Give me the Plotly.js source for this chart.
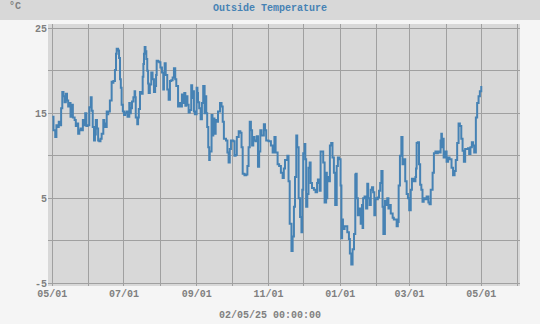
<!DOCTYPE html>
<html>
<head>
<meta charset="utf-8">
<script src="https://cdn.plot.ly/plotly-3.0.1.min.js"></script>
<style>html,body{margin:0;padding:0;background:#f5f5f5;}#chart{width:540px;height:324px;}</style>
</head>
<body>
<div id="chart"></div>
<script>
// Days since 2024-05-01 00:00 for each reading
const dayOffsets = [
  0,1,2.5,3.5,4.5,5.5,6.5,7.5,8.5,9.5,
  10.5,11.5,12.5,13.5,14.5,15.5,16.5,17.5,19,20,
  21,22,23,24,25,26,27,28,29,30,
  31.5,32.7,33.5,34.4,35.5,36.3,37,38,39,40,
  41,42,43.4,44.2,45,46.3,47,47.6,49,50.5,
  51.3,52,53.3,54.2,54.8,56,56.8,57.6,58.3,59,
  60,61,62,63,64,65.5,66,66.8,67.8,69,
  70,70.5,71,72.3,73,73.6,74.6,75.7,76.9,77.5,
  78,78.6,79.3,80,80.8,81.5,82,83,84.2,85.3,
  86.5,87.5,88.3,88.8,90,91,92,93.3,94.4,95,
  95.6,96.5,97.8,99,100.1,101.2,102.4,103.5,104.6,105.5,
  107,108,109,110.3,111.4,112.3,113.2,114,115,116,
  117,118.2,119,119.6,120.5,121.3,122.8,123.5,124,125,
  126.2,127.3,128.4,129.6,130.3,131,131.8,132.7,133.5,134,
  135.5,136.3,137,138,139,140,141,142.7,144,145,
  146,147.8,149,150,151,152,154,155,156,157,
  158.6,160,161,162,163.5,165,166,167,168,169,
  170,171,172,173,174,175,176,177,178,179,
  180,181,182,184,186,187.5,189,190,191.7,193,
  194.5,196,197,198,200,201,202,203.5,204.5,205.6,
  206.5,207.6,208.4,209.6,210.8,212,212.7,213.5,214.7,215.3,
  216,217,218,219,219.8,221,222.6,224,225.3,226,
  227.5,228.3,229.7,230.5,231.7,233,233.6,234,235,236.2,
  237.3,238.4,239.6,240.7,242,243,244,245.3,246,246.6,
  247.3,248.7,250,251,252.4,253.2,254.4,255.5,256.7,257.8,
  258.4,259,260,261,262.4,263.5,264,264.5,265.7,267,
  268,268.8,270,271,272,273,274,274.8,276,277,
  278,279,280,281,281.7,283,284,285,286,287,
  288,289.6,290.6,292,293,294,294.7,295.8,297,298,
  299.2,300.3,301.5,302.6,303.7,305,306,307.5,309,309.5,
  310,311,312,313,314,315,316,317,318.5,320,
  321,322,323.6,324.7,326,327,328,329,330.4,331,
  331.5,332.3,333,334,335.5,336.8,338,339.7,341,342.3,
  343.3,344.5,345.7,346.8,348,349.1,350.2,351.3,352.5,353.7,
  354.7,355.8,357,358,359,360.4,361.5,362.7,363.8,365
];
// Outside temperature, °C
const outsideTemp = [
  14.6,13.0,12.2,13.6,13.4,14.0,13.6,15.6,17.5,17.0,
  16.3,17.3,16.5,15.8,16.2,14.6,16.0,14.5,14.2,13.5,
  13.8,12.6,13.0,13.2,13.0,14.2,13.6,15.0,13.5,13.6,
  15.7,16.9,15.3,13.4,11.8,12.5,14.2,13.2,11.8,11.7,
  12.0,12.6,14.2,13.8,13.4,15.2,14.9,15.2,16.5,18.7,
  18.6,18.8,20.1,22.0,22.6,22.4,21.5,19.0,18.0,16.0,
  15.2,14.8,15.0,15.2,14.6,16.2,15.0,15.6,16.4,16.9,
  17.6,16.9,14.5,13.7,14.5,15.5,17.5,17.3,19.3,20.8,
  22.0,22.8,22.3,21.4,20.0,18.5,17.4,18.4,19.8,19.0,
  17.5,18.2,19.5,21.2,21.1,21.0,20.4,19.8,17.8,19.6,
  20.9,19.5,17.8,16.6,18.8,18.9,19.2,20.3,19.0,18.2,
  15.8,16.2,15.8,17.2,16.2,17.4,15.9,17.0,16.0,15.1,
  15.4,18.3,16.8,17.6,15.2,14.9,18.0,17.4,16.3,15.6,
  14.3,16.2,18.2,15.0,17.0,15.0,13.4,11.0,9.5,10.5,
  14.8,12.4,14.4,12.6,14.2,14.0,15.2,16.2,15.8,14.0,
  12.0,11.8,10.4,9.2,10.8,11.8,11.7,10.0,10.1,12.2,
  12.9,12.7,11.0,7.9,7.7,7.8,8.8,11.0,14.0,13.0,
  11.2,12.2,11.8,11.7,12.3,8.7,10.5,13.0,12.4,12.4,
  13.7,13.0,11.8,11.7,11.2,10.4,12.2,10.4,9.0,8.8,
  8.0,7.4,8.5,9.5,10.0,7.0,2.0,-1.2,0.5,4.0,
  7.5,12.4,11.0,5.0,2.8,1.0,6.0,10.3,11.4,9.6,
  4.0,5.5,8.6,9.2,6.8,6.2,6.0,5.7,6.8,7.2,
  5.9,10.5,10.5,9.2,4.5,8.0,5.0,7.5,7.0,11.2,
  11.5,9.8,8.0,4.2,8.8,9.8,9.6,6.5,0.3,2.5,
  1.4,1.7,1.7,1.0,0.2,-1.5,-2.8,-1.0,0.8,7.8,
  7.9,5.0,3.0,3.8,2.0,4.2,1.5,5.0,5.2,3.8,
  6.7,5.0,4.2,6.0,6.3,5.7,3.0,5.0,4.9,5.1,
  5.9,6.8,8.2,4.0,0.8,4.7,4.2,5.0,3.8,4.2,
  3.2,2.7,2.5,2.5,1.7,2.2,6.5,10.0,12.2,9.0,
  9.6,7.0,5.5,5.0,3.6,6.0,7.3,7.0,7.5,8.5,
  11.5,11.6,9.0,6.6,6.0,4.6,5.0,4.9,5.2,4.5,
  4.3,6.0,8.0,10.3,10.5,10.3,10.5,10.4,11.8,12.6,
  11.0,12.0,9.8,10.5,9.3,9.8,9.6,8.6,7.7,8.2,
  9.5,11.5,13.8,13.5,12.0,10.6,9.3,10.8,10.8,10.9,
  10.2,11.0,11.6,11.2,10.4,14.5,16.2,17.0,17.6,18.2
];
const yTickVals = [-5, 5, 15, 25];
const yTickText = ['-5', '5', '15', '25'];
const chartTitle = 'Outside Temperature';
const unitLabel = '°C';
const footerLabel = '02/05/25 00:00:00';

const base = Date.UTC(2024, 4, 1);
const xDates = dayOffsets.map(d => new Date(base + d * 86400000).toISOString().slice(0, 19).replace('T', ' '));

const FONT = 'Liberation Mono, DejaVu Sans Mono, monospace';
const GRAY = '#808080';
const GRID = '#a0a0a0';

const trace = {
  x: xDates, y: outsideTemp, type: 'scatter', mode: 'lines',
  line: {color: '#4682b4', width: 2, shape: 'hv'}, hoverinfo: 'skip'
};

const layout = {
  width: 540, height: 324,
  paper_bgcolor: '#f5f5f5', plot_bgcolor: '#d8d8d8',
  margin: {l: 48, r: 20, t: 24, b: 38, pad: 0},
  showlegend: false,
  font: {family: FONT, size: 10, color: GRAY},
  title: {
    text: chartTitle, x: 0.5, xref: 'container', y: 1 - 7 / 324, yref: 'container',
    xanchor: 'center', yanchor: 'middle',
    font: {family: FONT, size: 10, color: '#4682b4', weight: 'bold'}
  },
  xaxis: {
    type: 'date',
    range: ['2024-04-27 08:10', '2025-06-02 23:00'],
    tickmode: 'linear', tick0: '2024-05-01', dtick: 'M2', tickformat: '%m/%d',
    showgrid: true, gridcolor: GRID, gridwidth: 1,
    minor: {tick0: '2024-05-01', dtick: 'M1', showgrid: true, gridcolor: GRID, gridwidth: 1, ticks: ''},
    zeroline: false, showline: false, ticks: '',
    tickfont: {family: FONT, size: 10, color: GRAY, weight: 'bold'}
  },
  yaxis: {
    range: [-5.32, 25.51],
    tickmode: 'array', tickvals: yTickVals, ticktext: yTickText,
    showgrid: true, gridcolor: GRID, gridwidth: 1,
    minor: {tick0: 0, dtick: 5, showgrid: true, gridcolor: GRID, gridwidth: 1, ticks: ''},
    zeroline: false, showline: false, ticks: '',
    tickfont: {family: FONT, size: 10, color: GRAY, weight: 'bold'}
  },
  shapes: [{
    type: 'rect', xref: 'paper', yref: 'paper', layer: 'below',
    x0: -0.2, x1: 1.2, y0: 1 + 4 / 262, y1: 1.2,
    fillcolor: '#d8d8d8', line: {width: 0}
  }],
  annotations: [
    {text: unitLabel, xref: 'paper', yref: 'paper', x: (15 - 48) / 472, y: 1 + 18 / 262,
     xanchor: 'center', yanchor: 'middle', showarrow: false,
     font: {family: FONT, size: 10, color: GRAY, weight: 'bold'}},
    {text: footerLabel, xref: 'paper', yref: 'paper', x: (270 - 48) / 472, y: -(315.5 - 286) / 262,
     xanchor: 'center', yanchor: 'middle', showarrow: false,
     font: {family: FONT, size: 10, color: GRAY, weight: 'bold'}}
  ]
};

Plotly.newPlot('chart', [trace], layout, {staticPlot: true, displayModeBar: false});
</script>
</body>
</html>
